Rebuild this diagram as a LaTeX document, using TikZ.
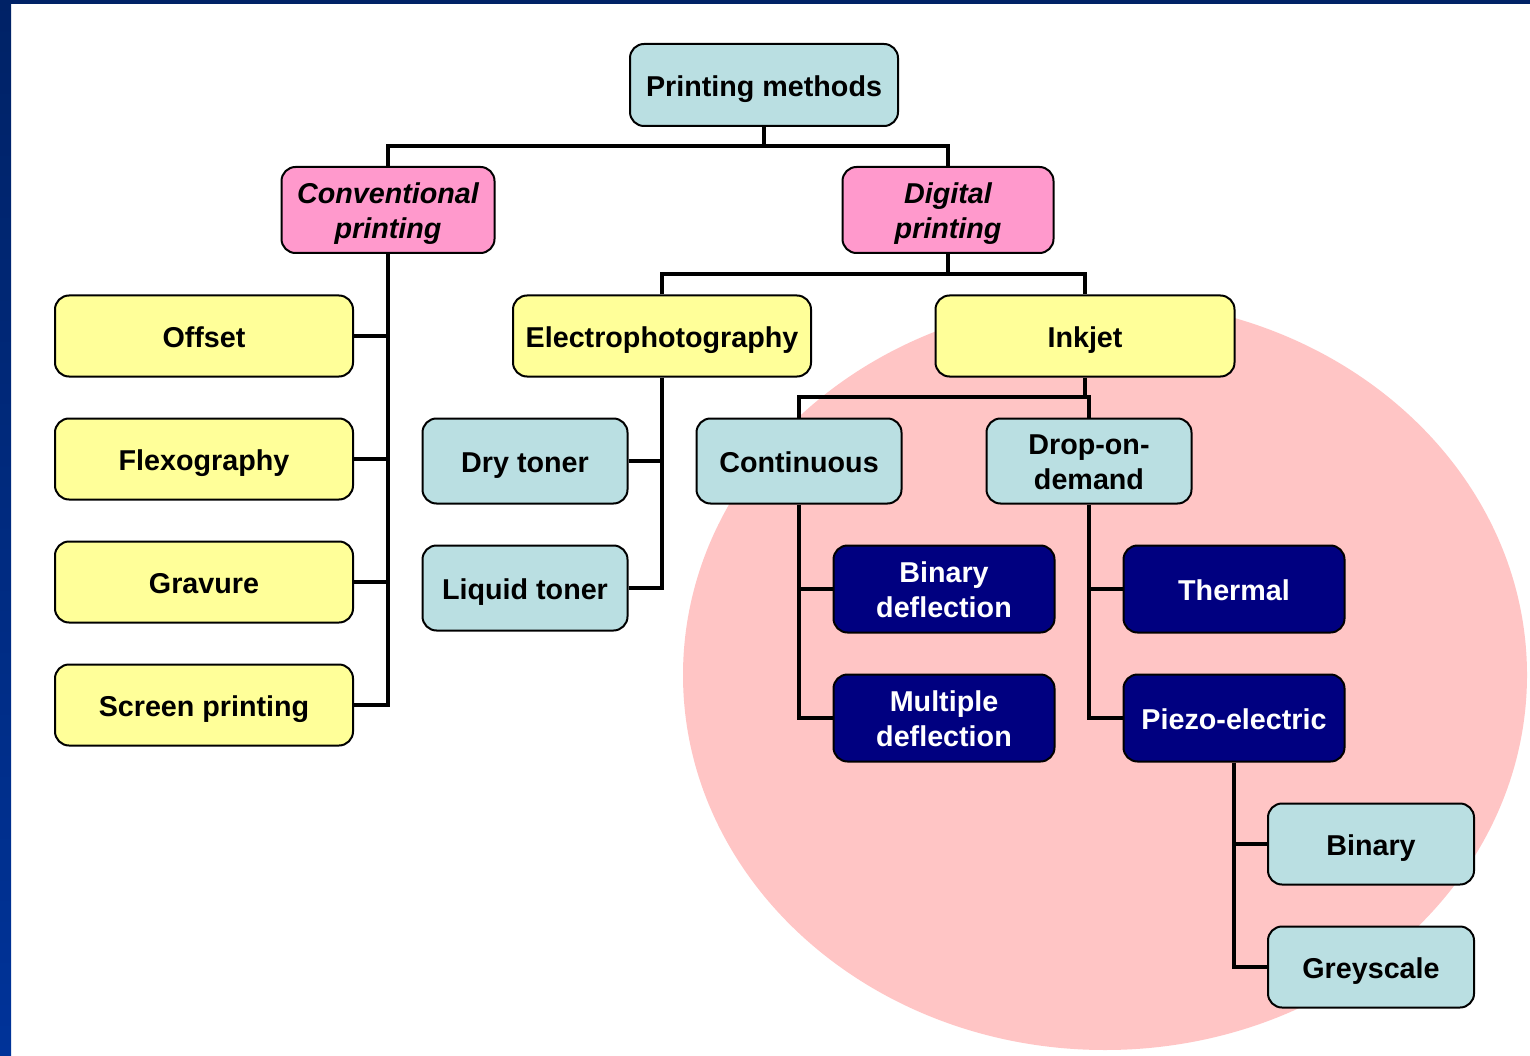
\documentclass[tikz,border=0pt]{standalone}
\usepackage{fontspec}
\setmainfont{Liberation Sans}
\definecolor{lblue}{HTML}{BADFE2}
\definecolor{lpink}{HTML}{FF99CC}
\definecolor{lyellow}{HTML}{FFFF99}
\definecolor{navybox}{HTML}{000080}
\definecolor{circ}{HTML}{FFC5C5}
\definecolor{stripdark}{HTML}{002266}
\definecolor{stripblue}{HTML}{003399}
\newcommand{\topstrut}{\rule{0pt}{1.045em}}
\newcommand{\firstline}{\rule{0pt}{1.0em}}
\newcommand{\botstrut}{\rule[-0.212em]{0pt}{0.1em}}
\begin{document}
\begin{tikzpicture}[x=1pt,y=-1pt,
  box/.style={draw=black, line width=2pt, rounded corners=14pt, inner sep=0pt, align=center,
    font=\fontsize{28.7}{35}\selectfont\bfseries, text=black,
    execute at begin node=\topstrut, execute at end node=\botstrut},
  blu/.style={box, fill=lblue},
  pnk/.style={box, fill=lpink, font=\fontsize{28.7}{35}\selectfont\bfseries\itshape},
  yel/.style={box, fill=lyellow},
  nav/.style={box, fill=navybox, text=white},
  conn/.style={draw=black, line width=4pt}]
\useasboundingbox (0,0) rectangle (1530,1056);
\fill[white] (0,0) rectangle (1530,1056);
\shade[top color=stripdark, bottom color=stripblue] (0,0) rectangle (11,1056);
\fill[stripdark] (0,0) rectangle (1530,4);
\begin{scope}
\clip (11,4) rectangle (1530,1056);
\fill[circ] (1105,675) ellipse [x radius=422, y radius=375];
\end{scope}

\node[blu, minimum width=268pt, minimum height=82pt] (pm) at (764,85) {Printing methods};
\node[pnk, minimum width=213pt, minimum height=86pt] (conv) at (388,210) {\firstline Conventional\\printing};
\node[pnk, minimum width=211pt, minimum height=86pt] (dig) at (948,210) {\firstline Digital\\printing};

\node[yel, minimum width=298pt, minimum height=81pt] (off) at (204,336) {Offset};
\node[yel, minimum width=298pt, minimum height=81pt] (flex) at (204,459) {Flexography};
\node[yel, minimum width=298pt, minimum height=81pt] (grav) at (204,582) {Gravure};
\node[yel, minimum width=298pt, minimum height=81pt] (scr) at (204,705) {Screen printing};

\node[yel, minimum width=298pt, minimum height=81pt] (ele) at (662,336) {Electrophotography};
\node[yel, minimum width=299pt, minimum height=81pt] (ink) at (1085,336) {Inkjet};

\node[blu, minimum width=205pt, minimum height=85pt] (dry) at (525,461) {Dry toner};
\node[blu, minimum width=205pt, minimum height=85pt] (liq) at (525,588) {Liquid toner};
\node[blu, minimum width=205pt, minimum height=85pt] (cont) at (799,461) {Continuous};
\node[blu, minimum width=205pt, minimum height=85pt] (dod) at (1089,461) {\firstline Drop-on-\\demand};

\node[nav, minimum width=221pt, minimum height=87pt] (bd) at (944,589) {\firstline Binary\\deflection};
\node[nav, minimum width=221pt, minimum height=87pt] (md) at (944,718) {\firstline Multiple\\deflection};
\node[nav, minimum width=221pt, minimum height=87pt] (th) at (1234,589) {Thermal};
\node[nav, minimum width=221pt, minimum height=87pt] (pz) at (1234,718) {Piezo-electric};

\node[blu, minimum width=206pt, minimum height=81pt] (bin) at (1371,844) {Binary};
\node[blu, minimum width=206pt, minimum height=81pt] (grey) at (1371,967) {Greyscale};

% connectors
\draw[conn] (pm.south) -- (pm.south |- 0,146);
\draw[conn] (conv.north) |- (dig.north |- 0,146) -- (dig.north);

\draw[conn] (conv.south) |- (scr.east);
\draw[conn] (off.east) -- (off.east -| conv.south);
\draw[conn] (flex.east) -- (flex.east -| conv.south);
\draw[conn] (grav.east) -- (grav.east -| conv.south);

\draw[conn] (dig.south) -- (dig.south |- 0,274);
\draw[conn] (ele.north) |- (ink.north |- 0,274) -- (ink.north);

\draw[conn] (ele.south) |- (liq.east);
\draw[conn] (dry.east) -- (dry.east -| ele.south);

\draw[conn] (ink.south) -- (ink.south |- 0,397);
\draw[conn] (cont.north) |- (dod.north |- 0,397) -- (dod.north);

\draw[conn] (cont.south) |- (md.west);
\draw[conn] (bd.west) -- (bd.west -| cont.south);

\draw[conn] (dod.south) |- (pz.west);
\draw[conn] (th.west) -- (th.west -| dod.south);

\draw[conn] (pz.south) |- (grey.west);
\draw[conn] (bin.west) -- (bin.west -| pz.south);
\end{tikzpicture}
\end{document}
